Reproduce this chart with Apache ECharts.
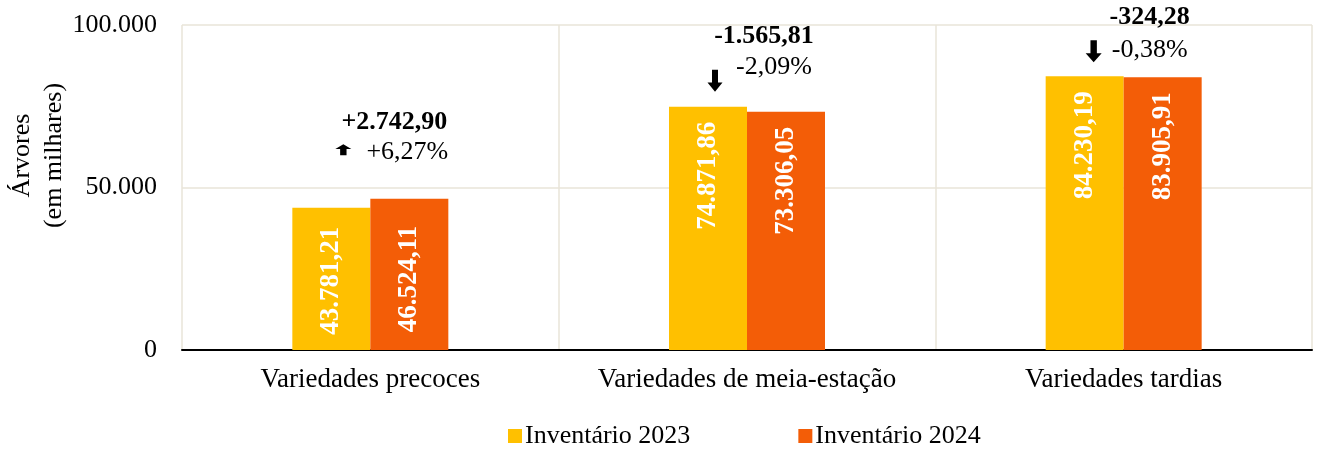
<!DOCTYPE html>
<html>
<head>
<meta charset="utf-8">
<title>Inventário de árvores</title>
<script src="https://cdn.jsdelivr.net/npm/echarts@6/dist/echarts.min.js"></script>
<style>
  html, body { margin: 0; padding: 0; background: #fff; }
  #chart { width: 1319px; height: 450px; }
</style>
</head>
<body>
<div id="chart"></div>
<script>
// dados
const categories = ['Variedades precoces', 'Variedades de meia-estação', 'Variedades tardias']
const seriesNames = ['Inventário 2023', 'Inventário 2024']
const inv2023 = [43781.21, 74871.86, 84230.19]
const inv2024 = [46524.11, 73306.05, 83905.91]
const diffLabels = ['+2.742,90', '-1.565,81', '-324,28']
const pctLabels = ['+6,27%', '-2,09%', '-0,38%']
const trend = ['up', 'down', 'down']
const yTicks = [0, 50000, 100000]

// posição dos rótulos (px, relativos ao topo da barra 2024)
const labelDist2023 = [19, 15, 15]
const labelDist2024 = [27, 15, 15]
const diffOffset = [[-15, -77], [-22, -75], [-13, -60]]
const pctOffset = [[-2, -47], [-12, -45], [-13, -27]]
const arrowOffset = [[-66, -49], [-71, -31], [-69, -26]]
const arrowSize = [[16, 11], [15, 22], [16, 22]]

const FONT = "'Liberation Serif', 'Times New Roman', serif"
const COLORS = ['#FFC000', '#F35D07']
const GRID_COLOR = '#E8E5D8'
const ARROW_UP = 'path://M5,0 L10,5 L7,5 L7,12 L3,12 L3,5 L0,5 Z'
const ARROW_DOWN = 'path://M3,0 L7,0 L7,7 L10,7 L5,12 L0,7 L3,7 Z'

function thousands(s) {
  return s.replace(/\B(?=(\d{3})+(?!\d))/g, '.')
}
function fmtBR(v) {
  const parts = v.toFixed(2).split('.')
  return thousands(parts[0]) + ',' + parts[1]
}

function barData(values, dists) {
  return values.map((v, i) => ({ value: v, label: { distance: dists[i] } }))
}

const annotations = []
categories.forEach((c, i) => {
  const coord = [c, inv2024[i]]
  const hidden = { color: 'transparent' }
  annotations.push({
    coord, symbol: 'rect', symbolSize: 0, itemStyle: hidden,
    label: { show: true, formatter: diffLabels[i], offset: diffOffset[i], fontWeight: 'bold' }
  })
  annotations.push({
    coord, symbol: 'rect', symbolSize: 0, itemStyle: hidden,
    label: { show: true, formatter: pctLabels[i], offset: pctOffset[i] }
  })
  annotations.push({
    coord,
    symbol: trend[i] === 'up' ? ARROW_UP : ARROW_DOWN,
    symbolSize: arrowSize[i],
    symbolOffset: arrowOffset[i],
    itemStyle: { color: '#000' },
    label: { show: false }
  })
})

const chart = echarts.init(document.getElementById('chart'))
const barLabel = {
  show: true,
  position: 'insideTop',
  rotate: 90,
  align: 'right',
  verticalAlign: 'middle',
  color: '#fff',
  fontFamily: FONT,
  fontSize: 27,
  fontWeight: 'bold',
  formatter: p => fmtBR(p.value)
}

chart.setOption({
  animation: false,
  grid: { left: 182, right: 7, top: 25, bottom: 100, outerBoundsMode: 'none', containLabel: false },
  legend: {
    top: 423,
    left: 508,
    padding: 0,
    icon: 'rect',
    itemWidth: 14,
    itemHeight: 14,
    itemGap: 108,
    data: seriesNames,
    textStyle: { fontFamily: FONT, fontSize: 26, color: '#000', padding: [0, 0, 0, -2] }
  },
  xAxis: {
    type: 'category',
    data: categories,
    axisTick: { show: false },
    axisLine: { lineStyle: { color: '#000', width: 2 } },
    axisLabel: { interval: 0, hideOverlap: false, fontFamily: FONT, fontSize: 27, color: '#000', margin: 16 },
    splitLine: { show: true, interval: 0, lineStyle: { color: GRID_COLOR, width: 1.5 } }
  },
  yAxis: {
    type: 'value',
    min: yTicks[0],
    max: yTicks[yTicks.length - 1],
    interval: yTicks[1] - yTicks[0],
    name: 'Árvores\n(em milhares)',
    nameLocation: 'middle',
    nameRotate: 90,
    nameGap: 112,
    nameMoveOverlap: false,
    nameTextStyle: { fontFamily: FONT, fontSize: 26, color: '#000', lineHeight: 32, padding: [0, 0, 0, 64] },
    axisLine: { show: false },
    axisTick: { show: false },
    axisLabel: { fontFamily: FONT, fontSize: 26, color: '#000', margin: 25, formatter: v => thousands(String(v)) },
    splitLine: { lineStyle: { color: GRID_COLOR, width: 1.5 } }
  },
  series: [
    {
      name: seriesNames[0],
      type: 'bar',
      barWidth: 78,
      barGap: '0%',
      itemStyle: { color: COLORS[0] },
      label: barLabel,
      data: barData(inv2023, labelDist2023)
    },
    {
      name: seriesNames[1],
      type: 'bar',
      barWidth: 78,
      barGap: '0%',
      itemStyle: { color: COLORS[1] },
      label: barLabel,
      data: barData(inv2024, labelDist2024),
      markPoint: {
        animation: false,
        label: { fontFamily: FONT, fontSize: 26, color: '#000' },
        data: annotations
      }
    }
  ]
})
</script>
</body>
</html>
